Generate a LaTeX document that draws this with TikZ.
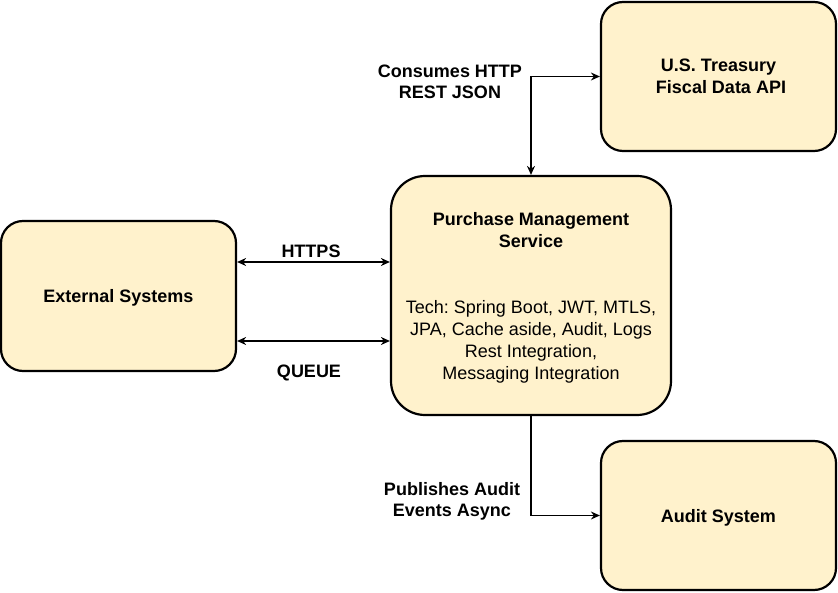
\documentclass[tikz,border=0pt]{standalone}
\usepackage{fontspec}
\setmainfont{Liberation Sans}
\usepackage{xcolor}
\usetikzlibrary{arrows.meta, positioning}

\definecolor{boxfill}{HTML}{FFF2CC}

\begin{document}
\frenchspacing
\begin{tikzpicture}[x=1pt, y=-1pt]
\tikzstyle{sysbox} = [rectangle, draw, line width=2.2pt, fill=boxfill, align=center, font=\fontsize{18}{22}\selectfont\bfseries, inner sep=0pt, text depth=0pt]
\tikzstyle{link} = [line width=1.3pt, -{Stealth[length=9pt,width=8pt]}]
\tikzstyle{biglink} = [line width=1.3pt, {Stealth[length=9pt,width=8pt]}-{Stealth[length=9pt,width=8pt]}]
\tikzstyle{lbl} = [font=\fontsize{18}{21}\selectfont\bfseries, align=center, inner sep=0pt]

\useasboundingbox (0,0) rectangle (838,593);

\node (treasury) [sysbox, rounded corners=22pt, minimum width=235pt, minimum height=149pt] at (718.5,76.5)
  {U.S. Treasury\\ \ Fiscal Data API};
\node (pms) [sysbox, rounded corners=34pt, minimum width=280pt, minimum height=239pt] at (531,295.5)
  {Purchase Management\\Service\\[44pt]
   \mdseries Tech: Spring Boot, JWT, MTLS,\\ \mdseries JPA, Cache aside, Audit, Logs\\
   \mdseries Rest Integration,\\ \mdseries Messaging Integration};
\node (ext) [sysbox, rounded corners=22pt, minimum width=235pt, minimum height=150pt] at (118.5,296)
  {External Systems};
\node (audit) [sysbox, rounded corners=22pt, minimum width=235pt, minimum height=149pt] at (718.5,515.5)
  {Audit System};

% connectors
\draw [biglink] (treasury.west) -| (pms.north);
\draw [biglink] ([yshift=34pt]ext.east) -- ([yshift=34pt]ext.east -| pms.west);
\draw [biglink] ([yshift=-45pt]ext.east) -- ([yshift=-45pt]ext.east -| pms.west);
\draw [link] (pms.south) |- (audit.west);

% labels
\node (conslbl) [lbl] at (450,81.5) {Consumes HTTP\\REST JSON};
\node (httpslbl) [lbl] at (311,251.5) {HTTPS};
\node (queuelbl) [lbl] at (309,372.5) {QUEUE};
\node (publbl) [lbl] at (452,501.5) {Publishes Audit\\Events Async};

\end{tikzpicture}
\end{document}
